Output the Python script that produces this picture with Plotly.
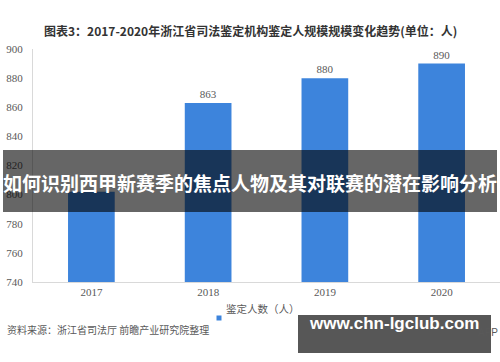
import plotly.graph_objects as go

years = ["2017", "2018", "2019", "2020"]
values = [802, 863, 880, 890]
label_values = ["", "863", "880", "890"]
series_name = "鉴定人数（人）"
y_ticks = [740, 760, 780, 800, 820, 840, 860, 880, 900]

title_text = "图表3：2017-2020年浙江省司法鉴定机构鉴定人规模规模变化趋势(单位：人)"
source_text = "资料来源：浙江省司法厅 前瞻产业研究院整理"
banner_text = "如何识别西甲新赛季的焦点人物及其对联赛的潜在影响分析"
site_text = "www.chn-lgclub.com"

W, H = 500, 362
L, R, T, B = 33, 0, 49, 80
PW, PH = W - L - R, H - T - B

def px(x):
    return (x - L) / PW

def py(y):
    return (H - B - y) / PH

BAR = "#3d84dc"
GRAY = "#595959"
CJK = "Noto Sans CJK SC"
SERIF = "Liberation Serif"

fig = go.Figure()
fig.add_trace(go.Bar(
    x=years, y=values, name=series_name,
    marker=dict(color=BAR, line=dict(width=0)),
    text=label_values, textposition="outside", cliponaxis=False,
    textfont=dict(family=SERIF, size=11, color=GRAY),
    showlegend=False,
))

shapes = []
annotations = []

# legend
shapes.append(dict(type="rect", xref="paper", yref="paper",
                   x0=px(216.5), x1=px(221.5), y0=py(315.5), y1=py(320.5),
                   fillcolor=BAR, line=dict(width=0)))
annotations.append(dict(x=px(224), y=py(318), xref="paper", yref="paper",
                        text=series_name, showarrow=False, xanchor="left",
                        font=dict(family=CJK, size=10.5, color=GRAY)))

# title
annotations.append(dict(x=px(250), y=py(20), xref="paper", yref="paper",
                        text="<b>" + title_text + "</b>", showarrow=False,
                        xanchor="center",
                        font=dict(family=CJK, size=12, color="#333333")))

# source
annotations.append(dict(x=px(5), y=py(339), xref="paper", yref="paper",
                        text=source_text, showarrow=False, xanchor="left",
                        font=dict(family=CJK, size=10, color=GRAY)))

# underlying app text (partly covered by the site box)
annotations.append(dict(x=px(500), y=py(340), xref="paper", yref="paper",
                        text="APP", showarrow=False, xanchor="right",
                        font=dict(family="Liberation Sans", size=10, color=GRAY)))

# banner
shapes.append(dict(type="rect", xref="paper", yref="paper",
                   x0=px(3), x1=px(497), y0=py(212), y1=py(150),
                   fillcolor="rgba(0,0,0,0.6)", line=dict(width=0), layer="above"))
annotations.append(dict(x=px(250), y=py(182), xref="paper", yref="paper",
                        text="<b>" + banner_text + "</b>", showarrow=False,
                        xanchor="center",
                        font=dict(family=CJK, size=19, color="white")))

# site box
shapes.append(dict(type="rect", xref="paper", yref="paper",
                   x0=px(298), x1=px(491), y0=py(353), y1=py(315),
                   fillcolor="rgba(50,50,50,0.82)", line=dict(width=0), layer="above"))
annotations.append(dict(x=px(394), y=py(335), xref="paper", yref="paper",
                        text="<b>" + site_text + "</b>", showarrow=False,
                        xanchor="center",
                        font=dict(family="Liberation Sans", size=17, color="white")))

fig.update_layout(
    width=W, height=H,
    margin=dict(l=L, r=R, t=T, b=B, pad=0),
    paper_bgcolor="white", plot_bgcolor="white",
    bargap=0.6,
    shapes=shapes, annotations=annotations,
    xaxis=dict(showgrid=False, showline=True, linecolor="#d9d9d9", linewidth=1,
               ticks="", tickfont=dict(family=SERIF, size=11, color=GRAY),
               zeroline=False, fixedrange=True),
    yaxis=dict(range=[740, 900], tickvals=y_ticks, showgrid=False,
               showline=True, linecolor="#d9d9d9", linewidth=1, ticks="",
               ticklabelstandoff=7,
               tickfont=dict(family=SERIF, size=11, color=GRAY),
               zeroline=False, fixedrange=True),
    showlegend=False,
)

fig.write_html("out.html")
